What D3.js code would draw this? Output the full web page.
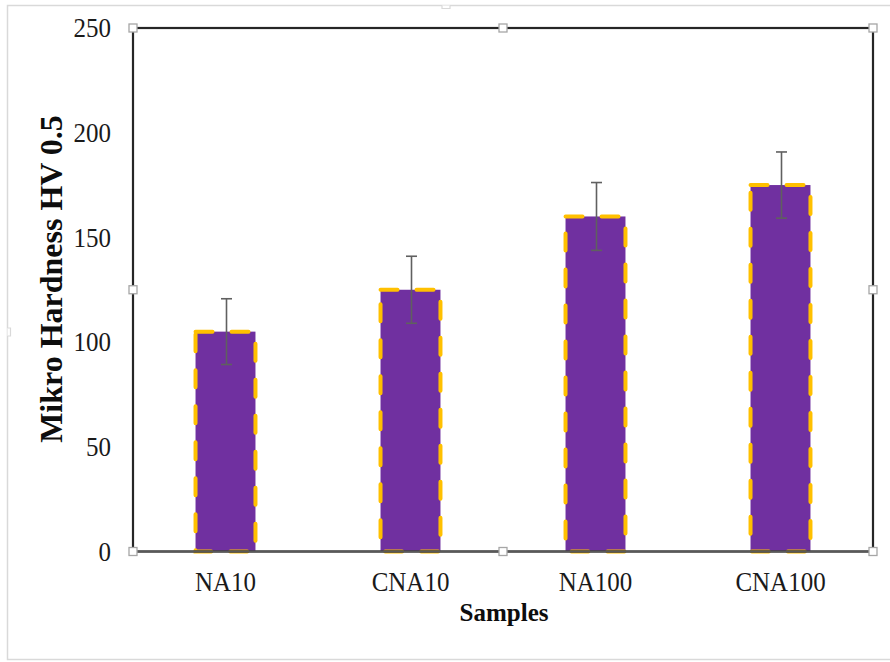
<!DOCTYPE html>
<html>
<head>
<meta charset="utf-8">
<script src="https://cdn.jsdelivr.net/npm/d3@7"></script>
<style>
  html, body { margin: 0; padding: 0; background: #fff; }
  svg { display: block; }
  text { font-family: "Liberation Serif", "Times New Roman", serif; }
</style>
</head>
<body>
<svg id="chart" width="890" height="662"></svg>
<script>
// Micro-hardness of the four sample groups
const categories = ["NA10", "CNA10", "NA100", "CNA100"];
const hardness = [105, 125, 160, 175];
const hardnessError = [15.7, 16, 16.2, 15.8];
const yTicks = [0, 50, 100, 150, 200, 250];

const svg = d3.select("#chart");
const W = 890;
const plot = { left: 133, right: 873, top: 28, bottom: 551.5 };
const textStretch = 1.1;

// outer chart frame
svg.append("rect")
  .attr("x", 7.5).attr("y", 5.5)
  .attr("width", W + 5).attr("height", 654)
  .attr("fill", "none").attr("stroke", "#d9d9d9").attr("stroke-width", 1.5);
// small notches on the frame edges
svg.append("path")
  .attr("d", "M7.5,328 h3 v8 h-3 M442,5.5 v3 h8 v-3")
  .attr("fill", "#fff").attr("stroke", "#d9d9d9").attr("stroke-width", 1.2);

const x = d3.scaleBand()
  .domain(categories)
  .range([plot.left, plot.right])
  .paddingInner(0.676)
  .paddingOuter(0.338);

const y = d3.scaleLinear()
  .domain([0, 250])
  .range([plot.bottom, plot.top]);

// bars: purple fill with gold long-dash outline
svg.append("g").selectAll("rect")
  .data(categories)
  .join("rect")
  .attr("x", d => x(d))
  .attr("y", (d, i) => y(hardness[i]))
  .attr("width", x.bandwidth())
  .attr("height", (d, i) => y(0) - y(hardness[i]))
  .attr("fill", "#7030a0")
  .attr("stroke", "#ffc000")
  .attr("stroke-width", 4)
  .attr("stroke-linecap", "round")
  .attr("stroke-dasharray", "17,19");

// error bars
const err = svg.append("g").attr("stroke", "#606060").attr("stroke-width", 1.6);
categories.forEach((c, i) => {
  const cx = x(c) + x.bandwidth() / 2 + 1;
  const hi = y(hardness[i] + hardnessError[i]);
  const lo = y(hardness[i] - hardnessError[i]);
  err.append("line").attr("x1", cx).attr("x2", cx).attr("y1", hi).attr("y2", lo);
  err.append("line").attr("x1", cx - 5.5).attr("x2", cx + 5.5).attr("y1", hi).attr("y2", hi);
  err.append("line").attr("x1", cx - 5.5).attr("x2", cx + 5.5).attr("y1", lo).attr("y2", lo);
});

// plot-area border
svg.append("rect")
  .attr("x", plot.left).attr("y", plot.top)
  .attr("width", plot.right - plot.left).attr("height", plot.bottom - plot.top)
  .attr("fill", "none").attr("stroke", "#262626").attr("stroke-width", 2.2);
svg.append("line")
  .attr("x1", plot.left).attr("x2", plot.right)
  .attr("y1", plot.bottom).attr("y2", plot.bottom)
  .attr("stroke", "#595959").attr("stroke-width", 2.2);

// y axis tick labels
const yAxis = svg.append("g")
  .attr("transform", `translate(${plot.left},0)`)
  .call(d3.axisLeft(y).tickValues(yTicks).tickSize(0).tickPadding(22));
yAxis.select(".domain").remove();
yAxis.selectAll("text")
  .attr("font-family", "Liberation Serif")
  .attr("font-size", 25)
  .attr("fill", "#1a1a1a")
  .attr("transform", `scale(1,${textStretch})`);

// x axis tick labels
const xAxis = svg.append("g")
  .attr("transform", `translate(0,${plot.bottom})`)
  .call(d3.axisBottom(x).tickSize(0).tickPadding(18));
xAxis.select(".domain").remove();
xAxis.selectAll("text")
  .attr("font-family", "Liberation Serif")
  .attr("font-size", 25)
  .attr("fill", "#1a1a1a")
  .attr("transform", `scale(1,${textStretch})`);

// axis titles
svg.append("text")
  .attr("x", (plot.left + plot.right) / 2 + 1)
  .attr("y", 621)
  .attr("text-anchor", "middle")
  .attr("font-weight", "bold")
  .attr("font-size", 25)
  .attr("fill", "#0d0d0d")
  .text("Samples");

svg.append("text")
  .attr("transform", "translate(62,279) rotate(-90)")
  .attr("text-anchor", "middle")
  .attr("font-weight", "bold")
  .attr("font-size", 32)
  .attr("fill", "#0d0d0d")
  .text("Mikro Hardness HV 0.5");

// selection handles on the plot area
const hx = [plot.left, (plot.left + plot.right) / 2, plot.right];
const hy = [plot.top, (plot.top + plot.bottom) / 2, plot.bottom];
const handles = [];
hx.forEach((px, i) => hy.forEach((py, j) => { if (!(i === 1 && j === 1)) handles.push([px, py]); }));
svg.append("g").selectAll("rect")
  .data(handles)
  .join("rect")
  .attr("x", d => d[0] - 4).attr("y", d => d[1] - 4)
  .attr("width", 8).attr("height", 8)
  .attr("fill", "#fff").attr("stroke", "#a6a6a6").attr("stroke-width", 1.3);
</script>
</body>
</html>
